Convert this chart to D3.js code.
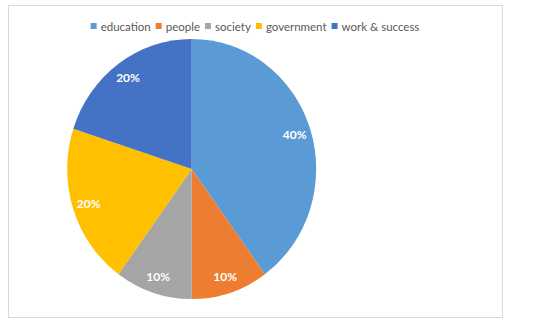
<!DOCTYPE html>
<html>
<head>
<meta charset="utf-8">
<script src="https://cdn.jsdelivr.net/npm/d3@7"></script>
<style>
  body { margin: 0; background: #fff; }
  svg { display: block; font-family: Lato, "Open Sans", sans-serif; }
</style>
</head>
<body>
<svg id="chart"></svg>
<script>
const categories = ["education", "people", "society", "government", "work & success"];
const shares = [40, 10, 10, 20, 20];
const colors = ["#5B9BD5", "#ED7D31", "#A5A5A5", "#FFC000", "#4472C4"];

const width = 550, height = 323;
const svg = d3.select("#chart").attr("width", width).attr("height", height);

// chart frame
svg.append("rect")
  .attr("x", 8.5).attr("y", 5.5)
  .attr("width", 494).attr("height", 312)
  .attr("fill", "#fff")
  .attr("stroke", "#d9d9d9")
  .attr("stroke-width", 1);

const data = categories.map((c, i) => ({ name: c, value: shares[i], color: colors[i] }));

// pie (image is slightly stretched vertically)
const cx = 191.7, cy = 169, radius = 124.5, yStretch = 1.045;

const pie = d3.pie().sort(null).value(d => d.value);
const arcs = pie(data);
const arc = d3.arc().innerRadius(0).outerRadius(radius);
const labelArc = d3.arc().innerRadius(radius * 0.87).outerRadius(radius * 0.87);

const g = svg.append("g").attr("transform", `translate(${cx},${cy})`);

g.append("g")
  .attr("transform", `scale(1,${yStretch})`)
  .selectAll("path")
  .data(arcs)
  .join("path")
  .attr("d", arc)
  .attr("fill", d => d.data.color);

const fmt = d3.format(".0%");
const total = d3.sum(shares);

g.selectAll("text.lbl")
  .data(arcs)
  .join("text")
  .attr("class", "lbl")
  .attr("x", d => labelArc.centroid(d)[0])
  .attr("y", d => labelArc.centroid(d)[1] * yStretch)
  .attr("text-anchor", "middle")
  .attr("dominant-baseline", "central")
  .attr("fill", "#fff")
  .attr("font-size", 12)
  .attr("font-weight", "bold")
  .text(d => fmt(d.data.value / total));

// legend, centered over the frame
const legend = svg.append("g");
const items = legend.selectAll("g")
  .data(data)
  .join("g");

items.append("rect")
  .attr("width", 6).attr("height", 6)
  .attr("y", -3)
  .attr("fill", d => d.color);

items.append("text")
  .attr("x", 10)
  .attr("dominant-baseline", "central")
  .attr("font-size", 11.5)
  .attr("fill", "#595959")
  .text(d => d.name);

let offset = 0;
items.each(function () {
  const w = this.getBBox().width;
  d3.select(this).attr("transform", `translate(${offset},0)`);
  offset += w + 5;
});
const legendWidth = offset - 5;
legend.attr("transform", `translate(${255 - legendWidth / 2},26)`);
</script>
</body>
</html>
